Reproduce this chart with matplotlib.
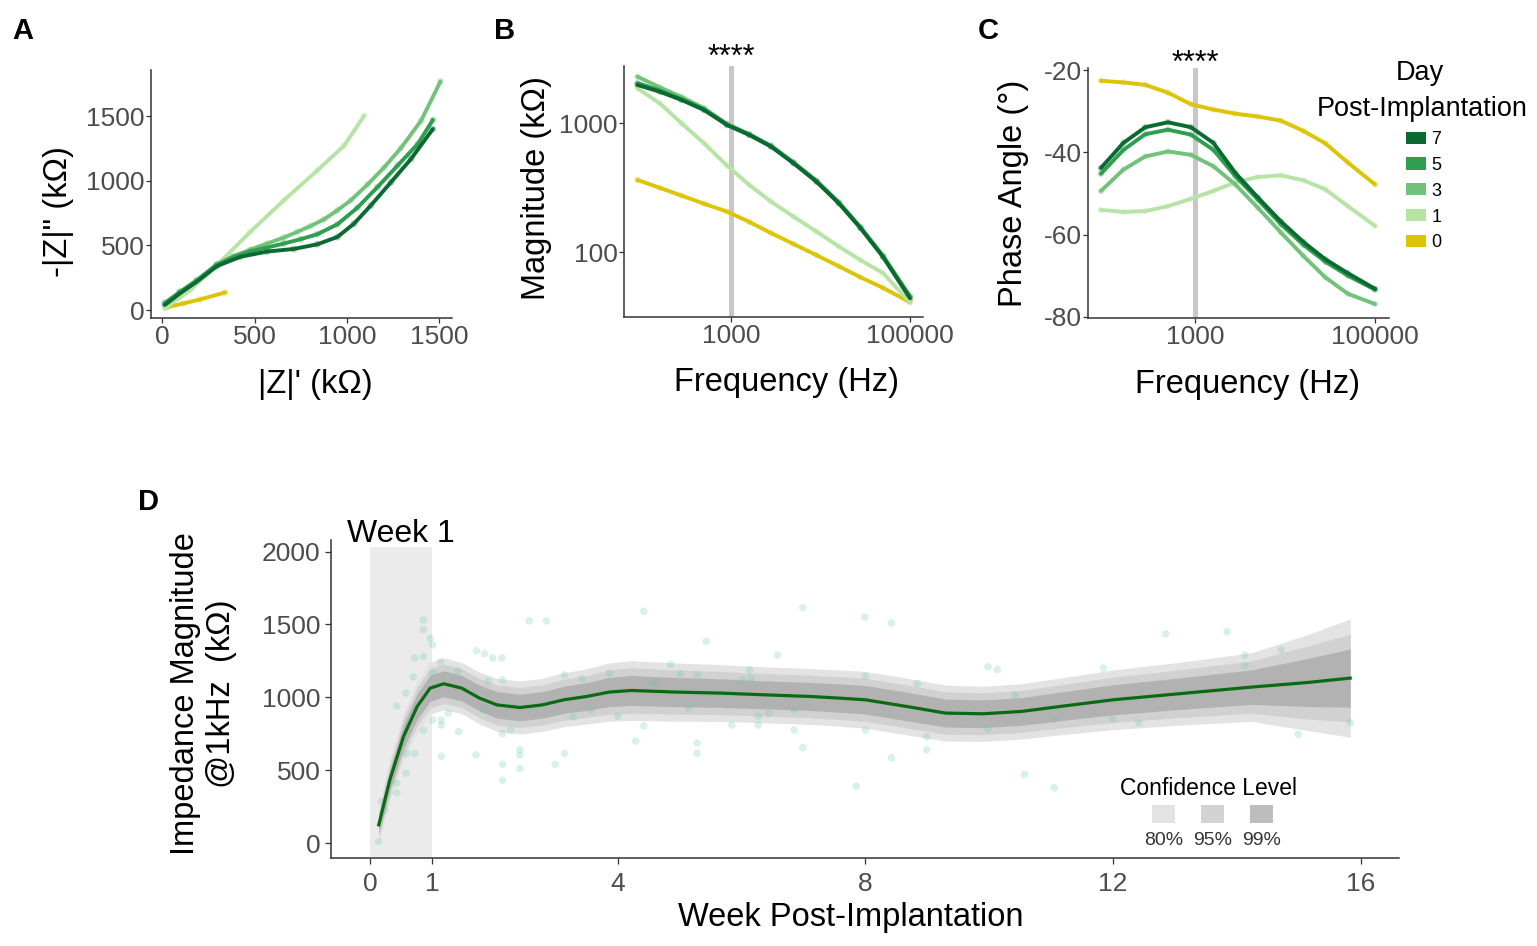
import matplotlib
matplotlib.use('Agg')
import matplotlib.pyplot as plt
from matplotlib.ticker import FixedLocator, NullLocator, FixedFormatter
from matplotlib.patches import Patch, Rectangle

plt.rcParams['font.family'] = ['Liberation Sans', 'DejaVu Sans']
plt.rcParams['axes.unicode_minus'] = False

# ---------------- panels A-C : per day post-implantation ----------------
days = ['7', '5', '3', '1', '0']
day_colors = ['#0a6a32', '#2f9e50', '#72c279', '#b6e4a5', '#dcc406']

# Nyquist (A), kOhm
zre_d7 = [15, 96, 187, 296, 423, 568, 713, 840, 949, 1039, 1130, 1239, 1348, 1466]
zim_d7 = [40, 129, 219, 340, 412, 453, 473, 509, 566, 669, 810, 990, 1171, 1402]
zre_d5 = [15, 96, 187, 296, 386, 477, 568, 658, 749, 840, 949, 1057, 1166, 1275, 1384, 1466]
zim_d5 = [51, 139, 226, 350, 410, 455, 484, 515, 548, 587, 664, 792, 952, 1119, 1286, 1472]
zre_d3 = [15, 96, 187, 296, 386, 477, 568, 658, 731, 804, 876, 949, 1021, 1112, 1203, 1293, 1402, 1507]
zim_d3 = [57, 141, 232, 355, 417, 468, 515, 561, 605, 651, 702, 772, 849, 972, 1106, 1255, 1466, 1770]
zre_d1 = [15, 151, 296, 477, 658, 840, 985, 1094]
zim_d1 = [13, 154, 347, 605, 849, 1081, 1273, 1505]
zre_d0 = [24, 114, 205, 341]
zim_d0 = [21, 51, 82, 136]

# Bode (B, C)
freq_hz = [90, 160, 280, 500, 900, 1600, 2800, 5000, 9000, 16000, 28000, 50000, 100000]
mag_d7 = [1983, 1757, 1517, 1268, 971, 812, 660, 490, 353, 240, 154, 92, 44]
mag_d5 = [2050, 1800, 1540, 1280, 980, 818, 665, 494, 356, 242, 155, 93, 45]
mag_d3 = [2300, 1900, 1600, 1310, 990, 825, 670, 498, 360, 245, 157, 94, 46]
mag_d1 = [1867, 1429, 1000, 700, 470, 333, 247, 189, 145, 111, 87, 69, 41]
mag_d0 = [364, 316, 275, 238, 207, 172, 141, 116, 95, 78, 64, 53, 41]
phase_d7 = [-43.8, -37.7, -33.9, -32.7, -33.9, -37.7, -45.0, -51.0, -56.8, -61.8, -66.0, -69.4, -73.2]
phase_d5 = [-45.2, -39.4, -35.6, -34.5, -35.7, -39.4, -45.8, -51.5, -57.5, -62.5, -66.6, -70.0, -73.4]
phase_d3 = [-49.4, -44.2, -41.0, -39.8, -40.6, -43.4, -47.8, -53.5, -59.5, -65.2, -70.4, -74.4, -76.9]
phase_d1 = [-54.0, -54.5, -54.3, -53.1, -51.3, -49.4, -47.3, -46.0, -45.6, -46.8, -49.0, -53.1, -57.9]
phase_d0 = [-22.6, -23.0, -23.6, -25.5, -28.3, -29.6, -30.6, -31.3, -32.3, -34.8, -37.8, -42.5, -47.8]

# ---------------- panel D : impedance at 1 kHz over weeks ----------------
weeks_fit = [0.14, 0.32, 0.54, 0.76, 0.97, 1.19, 1.48, 1.77, 2.05, 2.42, 2.78, 3.13, 3.5, 3.86, 4.22,
             4.94, 5.66, 6.38, 7.1, 7.6, 8.0, 8.67, 9.29, 9.9, 10.52, 11.14, 12.0, 13.0, 14.23, 15.15, 15.83]
impedance_fit = [125, 435, 731, 937, 1063, 1093, 1063, 994, 948, 930, 948, 983, 1006, 1036, 1047,
                 1036, 1029, 1017, 1006, 994, 983, 937, 892, 887, 903, 937, 983, 1022, 1070, 1102, 1132]
ci99_half = [120, 140, 160, 175, 180, 178, 175, 178, 182, 182, 182, 185, 190, 200, 205,
             200, 195, 192, 192, 193, 195, 195, 192, 189, 190, 195, 205, 215, 235, 330, 406]
ci95_half = [91, 106, 122, 133, 137, 135, 133, 135, 138, 138, 138, 141, 144, 152, 156,
             152, 148, 146, 146, 147, 148, 148, 146, 144, 144, 148, 156, 163, 179, 251, 300]
ci80_half = [60, 70, 80, 88, 90, 89, 88, 89, 91, 91, 91, 93, 95, 100, 103,
             100, 98, 96, 96, 97, 98, 98, 96, 95, 95, 98, 103, 108, 118, 165, 200]

obs_week = [0.14, 0.18, 0.24, 0.43, 0.43, 0.43, 0.58, 0.58, 0.70, 0.72,
            0.72, 0.59, 0.86, 0.86, 0.86, 0.86, 0.97, 1.01, 1.01, 1.01,
            1.14, 1.15, 1.15, 1.15, 1.26, 1.42, 1.43, 1.72, 1.85, 1.98,
            2.13, 2.14, 1.91, 1.84, 1.71, 2.14, 2.27, 2.14, 2.14, 2.42,
            2.42, 2.42, 2.57, 2.85, 2.99, 3.14, 3.14, 3.28, 3.42, 3.57,
            3.86, 4.00, 4.29, 4.42, 4.42, 4.58, 4.85, 5.01, 5.14, 5.28,
            5.28, 5.28, 5.43, 5.84, 6.01, 6.13, 6.15, 6.27, 6.27, 6.44,
            6.58, 6.85, 6.99, 6.99, 6.85, 7.99, 8.42, 8.00, 8.00, 7.85,
            8.42, 8.84, 8.99, 8.99, 9.98, 10.13, 10.42, 9.98, 10.57, 11.05,
            11.05, 11.84, 11.99, 12.42, 12.85, 13.84, 14.13, 14.13, 14.71, 14.99, 15.83]
obs_kohm = [10, 285, 230, 345, 412, 940, 480, 1030, 1140, 1270,
            615, 615, 1530, 1465, 1280, 775, 1405, 1360, 1165, 845,
            1245, 845, 810, 595, 890, 1180, 765, 1320, 1300, 1270,
            1270, 1120, 1110, 915, 605, 750, 775, 540, 430, 640,
            605, 510, 1525, 1525, 540, 615, 1155, 865, 1130, 915,
            1165, 870, 700, 1590, 805, 1100, 1225, 1165, 925, 1155,
            685, 615, 1385, 810, 1120, 1190, 1130, 870, 810, 890,
            1290, 775, 1615, 655, 915, 1550, 1510, 1145, 775, 390,
            585, 1095, 730, 640, 1210, 1190, 1015, 780, 470, 380,
            850, 1200, 850, 825, 1435, 1450, 1290, 1215, 1325, 745, 825]

week_ticks = [0, 1, 4, 8, 12, 16]
ci_labels = ['80%', '95%', '99%']
ci_key_colors = ['#e3e3e3', '#d3d3d3', '#bdbdbd']
ribbon_colors = ['#e3e3e3', '#d1d1d1', '#b2b2b2']   # 99, 95, 80

AXIS_C = '#333333'
TICK_C = '#4d4d4d'


def style_axes(ax, labelsize=19, xpad=1.5, ypad=1.0, length=3.5):
    for s in ['top', 'right']:
        ax.spines[s].set_visible(False)
    for s in ['left', 'bottom']:
        ax.spines[s].set_color(AXIS_C)
        ax.spines[s].set_linewidth(1.1)
    ax.tick_params(axis='both', color=AXIS_C, labelcolor=TICK_C, labelsize=labelsize,
                   length=length, width=0.9)
    ax.tick_params(axis='x', pad=xpad)
    ax.tick_params(axis='y', pad=ypad)


def log_ticks(axis, values, labels):
    axis.set_major_locator(FixedLocator(values))
    axis.set_major_formatter(FixedFormatter(labels))
    axis.set_minor_locator(NullLocator())


fig = plt.figure(figsize=(15.37, 9.46), dpi=100)

# ---------------- A ----------------
axA = fig.add_axes([0.0982, 0.6638, 0.1958, 0.2622])
nyq = [(zre_d7, zim_d7), (zre_d5, zim_d5), (zre_d3, zim_d3), (zre_d1, zim_d1), (zre_d0, zim_d0)]
for (zr, zi), c in list(zip(nyq, day_colors))[::-1]:
    axA.scatter(zr, zi, s=26, color=c, alpha=0.3, edgecolors='none', zorder=2)
    axA.plot(zr, zi, color=c, lw=2.8, solid_capstyle='round', solid_joinstyle='round', zorder=3)
axA.set_xlim(-61, 1569)
axA.set_ylim(-62, 1859)
axA.set_xticks([0, 500, 1000, 1500])
axA.set_yticks([0, 500, 1000, 1500])
style_axes(axA)
axA.set_xlabel("|Z|' (k\u03a9)", fontsize=23.5)
axA.set_ylabel('-|Z|" (k\u03a9)', fontsize=23.5)
axA.xaxis.set_label_coords(0.545, -0.205)
axA.yaxis.set_label_coords(-0.255, 0.431)

# ---------------- B ----------------
axB = fig.add_axes([0.4060, 0.6649, 0.1945, 0.2653])
axB.axvline(1000, color='#c8c8c8', lw=3.6, zorder=1)
mags = [mag_d7, mag_d5, mag_d3, mag_d1, mag_d0]
for m, c in list(zip(mags, day_colors))[::-1]:
    axB.scatter(freq_hz, m, s=22, color=c, alpha=0.3, edgecolors='none', zorder=2)
    axB.plot(freq_hz, m, color=c, lw=2.8, solid_capstyle='round', solid_joinstyle='round', zorder=3)
axB.set_xscale('log')
axB.set_yscale('log')
axB.set_xlim(63.7, 139700)
axB.set_ylim(31.5, 2780)
log_ticks(axB.xaxis, [1000, 100000], ['1000', '100000'])
log_ticks(axB.yaxis, [100, 1000], ['100', '1000'])
style_axes(axB)
axB.set_xlabel('Frequency (Hz)', fontsize=23.5)
axB.set_ylabel('Magnitude (k\u03a9)', fontsize=23.5)
axB.xaxis.set_label_coords(0.545, -0.2)
axB.yaxis.set_label_coords(-0.241, 0.514)
axB.text(1000, 1.0, '****', transform=axB.get_xaxis_transform(), ha='center',
         va='baseline', fontsize=22)

# ---------------- C ----------------
axC = fig.add_axes([0.7079, 0.6638, 0.1958, 0.2643])
axC.axvline(1000, color='#c8c8c8', lw=3.6, zorder=1)
phases = [phase_d7, phase_d5, phase_d3, phase_d1, phase_d0]
for p, c in list(zip(phases, day_colors))[::-1]:
    axC.scatter(freq_hz, p, s=22, color=c, alpha=0.3, edgecolors='none', zorder=2)
    axC.plot(freq_hz, p, color=c, lw=2.8, solid_capstyle='round', solid_joinstyle='round', zorder=3)
axC.set_xscale('log')
axC.set_xlim(64.7, 143000)
axC.set_ylim(-80.3, -19.5)
log_ticks(axC.xaxis, [1000, 100000], ['1000', '100000'])
axC.set_yticks([-80, -60, -40, -20])
style_axes(axC)
axC.set_xlabel('Frequency (Hz)', fontsize=23.5)
axC.set_ylabel('Phase Angle (\u00b0)', fontsize=23.5)
axC.xaxis.set_label_coords(0.53, -0.203)
axC.yaxis.set_label_coords(-0.196, 0.5)
axC.text(1000, 0.985, '****', transform=axC.get_xaxis_transform(), ha='center',
         va='baseline', fontsize=22)

# legend of days: title drawn as text, keys as a legend
fig.text(1420 / 1537, 1 - 80 / 946, 'Day', ha='center', va='baseline', fontsize=19.5)
fig.text(1422 / 1537, 1 - 115.5 / 946, 'Post-Implantation', ha='center', va='baseline',
         fontsize=19.5)
handles = [Patch(facecolor=c, edgecolor='none') for c in day_colors]
leg = axC.legend(handles, days, loc='upper left',
                 bbox_to_anchor=(1406 / 1537, 1 - 131 / 946), bbox_transform=fig.transFigure,
                 frameon=False, fontsize=13, handlelength=1.1,
                 handleheight=0.65, handletextpad=0.3, labelspacing=0.49,
                 borderpad=0, borderaxespad=0)

# ---------------- D ----------------
axD = fig.add_axes([0.2154, 0.0930, 0.6949, 0.3362])
axD.axvspan(0, 1, ymin=0.004, ymax=0.979, color='#ebebeb', lw=0, zorder=0)
halves = [ci99_half, ci95_half, ci80_half]
for h, c in zip(halves, ribbon_colors):
    lo = [v - d for v, d in zip(impedance_fit, h)]
    hi = [v + d for v, d in zip(impedance_fit, h)]
    axD.fill_between(weeks_fit, lo, hi, color=c, lw=0, zorder=1)
axD.scatter(obs_week, obs_kohm, s=30, color='#66cdaa', alpha=0.25, edgecolors='none', zorder=2)
axD.plot(weeks_fit, impedance_fit, color='#0b6b12', lw=2.3, solid_joinstyle='round', zorder=3)
axD.set_xlim(-0.63, 16.62)
axD.set_ylim(-103, 2080)
axD.set_xticks(week_ticks)
axD.set_yticks([0, 500, 1000, 1500, 2000])
style_axes(axD, labelsize=19, xpad=6, ypad=3.5, length=4)
axD.set_xlabel('Week Post-Implantation', fontsize=23.5)
axD.set_ylabel('Impedance Magnitude\n@1kHz  (k\u03a9)', fontsize=23.5)
axD.xaxis.set_label_coords(0.487, -0.137)
axD.yaxis.set_label_coords(-0.088, 0.516)
axD.text(0.5, 2067, 'Week 1', ha='center', va='baseline', fontsize=23)

# confidence level key
axD.text(0.8212, 0.198, 'Confidence Level', transform=axD.transAxes, ha='center',
         va='baseline', fontsize=16.5)
key_x = [0.7683, 0.8146, 0.8605]
for x0, lab, c in zip(key_x, ci_labels, ci_key_colors):
    axD.add_patch(Rectangle((x0, 0.110), 0.0215, 0.0566, transform=axD.transAxes,
                            facecolor=c, edgecolor='none'))
    axD.text(x0 + 0.0108, 0.041, lab, transform=axD.transAxes, ha='center',
             va='baseline', fontsize=14, color='#333333')

# panel letters
for lab, x, y in [('A', 12, 39), ('B', 494, 39), ('C', 978, 39), ('D', 138, 510)]:
    fig.text(x / 1537, 1 - y / 946, lab, fontsize=21, fontweight='bold', ha='left', va='baseline')

fig.savefig('out.png', dpi=100)
